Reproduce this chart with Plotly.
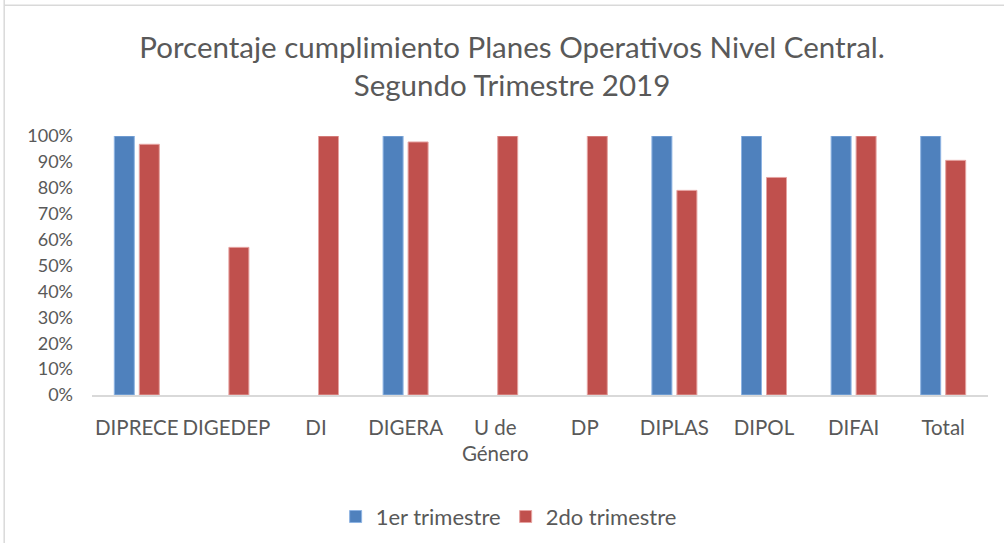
import plotly.graph_objects as go

categories = ["DIPRECE", "DIGEDEP", "DI", "DIGERA", "U de<br>Género", "DP", "DIPLAS", "DIPOL", "DIFAI", "Total"]
q1_values = [1.0, None, None, 1.0, None, None, 1.0, 1.0, 1.0, 1.0]
q2_values = [0.968, 0.570, 1.0, 0.977, 1.0, 1.0, 0.790, 0.840, 1.0, 0.906]
tick_vals = [0, 0.1, 0.2, 0.3, 0.4, 0.5, 0.6, 0.7, 0.8, 0.9, 1.0]
tick_text = ["0%", "10%", "20%", "30%", "40%", "50%", "60%", "70%", "80%", "90%", "100%"]

FONT = "Lato"
GREY = "#595959"

fig = go.Figure()
fig.add_trace(go.Bar(x=categories, y=q1_values, name="1er trimestre",
                     marker=dict(color="#4F81BD", line=dict(color="#8EB4E3", width=1))))
fig.add_trace(go.Bar(x=categories, y=q2_values, name="2do trimestre",
                     marker=dict(color="#C0504D", line=dict(color="#E6A3A1", width=1))))

fig.update_layout(
    width=1004, height=543,
    paper_bgcolor="white", plot_bgcolor="white",
    margin=dict(l=92, r=16, t=136, b=148, autoexpand=False),
    barmode="group", bargap=0.442, bargroupgap=0.2,
    font=dict(family=FONT, color=GREY, size=20),
    title=dict(text="Porcentaje cumplimiento Planes Operativos Nivel Central.<br>Segundo Trimestre 2019",
               x=0.51, xanchor="center", y=0.893, yanchor="middle",
               font=dict(family=FONT, size=29.5, color=GREY)),
    showlegend=True,
    legend=dict(orientation="h", x=0.465, xanchor="center", y=-0.47, yanchor="middle",
                font=dict(family=FONT, size=22, color=GREY), itemwidth=30),
    xaxis=dict(showgrid=False, showline=True, linecolor="#D9D9D9", linewidth=2,
               ticks="", tickfont=dict(size=20.5, color=GREY), fixedrange=True,
               automargin=False, ticklabelstandoff=13, tickangle=0),
    yaxis=dict(range=[0, 1.0], tickvals=tick_vals, ticktext=tick_text, showgrid=False,
               showline=False, zeroline=False, ticks="", ticklabelstandoff=18,
               tickfont=dict(size=18, color=GREY), automargin=False, fixedrange=True),
    shapes=[dict(type="line", xref="paper", yref="paper", x0=-0.098, x1=-0.098, y0=1.6, y1=-0.6,
                 line=dict(color="#D9D9D9", width=1.5)),
            dict(type="line", xref="paper", yref="paper", x0=-0.098, x1=1.1, y0=1.505, y1=1.505,
                 line=dict(color="#D9D9D9", width=1.5))],
)
fig.write_html("out.html", config={"displayModeBar": False},
               post_script="document.body.style.margin='0';document.body.style.overflow='hidden';")
